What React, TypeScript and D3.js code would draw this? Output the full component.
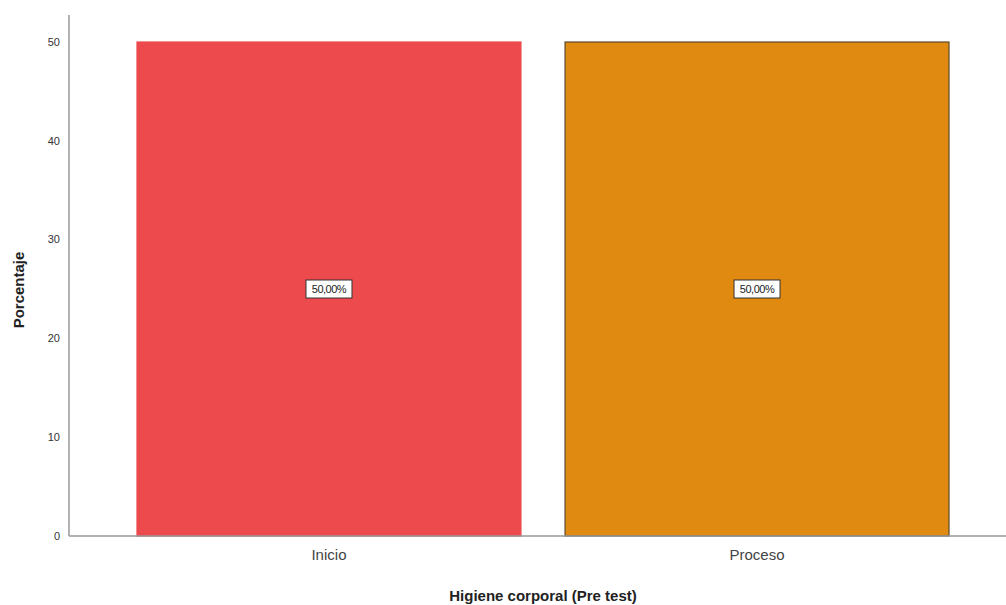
import React from "react";
import * as d3 from "d3";

const categories = ["Inicio", "Proceso"];
const values = [50, 50];
const labels = ["50,00%", "50,00%"];
const colors = ["#EC4A4C", "#E08A12"];
const strokes = ["#EC4A4C", "#5a4a30"];
const yTicks = [0, 10, 20, 30, 40, 50];

export default function App() {
  const W = 1006, H = 605;
  const x0 = 69, yBase = 536;
  const y = d3.scaleLinear().domain([0, 50]).range([yBase, 42]);
  const x = d3.scaleBand().domain(categories).range([137, 949]).paddingInner(0.103).paddingOuter(0);
  const font = "'Liberation Sans', Arial, sans-serif";
  return (
    <svg width={W} height={H} style={{ position: "absolute", left: 0, top: 0, background: "#fff" }} fontFamily={font}>
      {categories.map((c, i) => (
        <rect key={c} x={x(c)!} y={y(values[i])} width={x.bandwidth()} height={yBase - y(values[i])}
          fill={colors[i]} stroke={strokes[i]} strokeWidth={1.2} />
      ))}
      <line x1={x0} x2={x0} y1={15} y2={yBase} stroke="#999" strokeWidth={1.5} />
      <line x1={x0} x2={W} y1={yBase} y2={yBase} stroke="#999" strokeWidth={1.5} />
      {yTicks.map(t => (
        <text key={t} x={60} y={y(t)} dy="0.35em" textAnchor="end" fontSize={11} fill="#333">{t}</text>
      ))}
      {categories.map(c => (
        <text key={c} x={x(c)! + x.bandwidth() / 2} y={560} textAnchor="middle" fontSize={15} fill="#444">{c}</text>
      ))}
      {categories.map((c, i) => {
        const cx = x(c)! + x.bandwidth() / 2, cy = y(values[i] / 2);
        return (
          <g key={c + "l"}>
            <rect x={cx - 23} y={cy - 9} width={46} height={18} fill="#fff" stroke="#333" strokeWidth={1} />
            <text x={cx} y={cy} dy="0.35em" textAnchor="middle" fontSize={11} fill="#222" letterSpacing={-0.5}>{labels[i]}</text>
          </g>
        );
      })}
      <text x={543} y={601} textAnchor="middle" fontSize={15} fontWeight="bold" fill="#222">Higiene corporal (Pre test)</text>
      <text transform={`translate(24,${290}) rotate(-90)`} textAnchor="middle" fontSize={15} fontWeight="bold" fill="#222">Porcentaje</text>
    </svg>
  );
}
